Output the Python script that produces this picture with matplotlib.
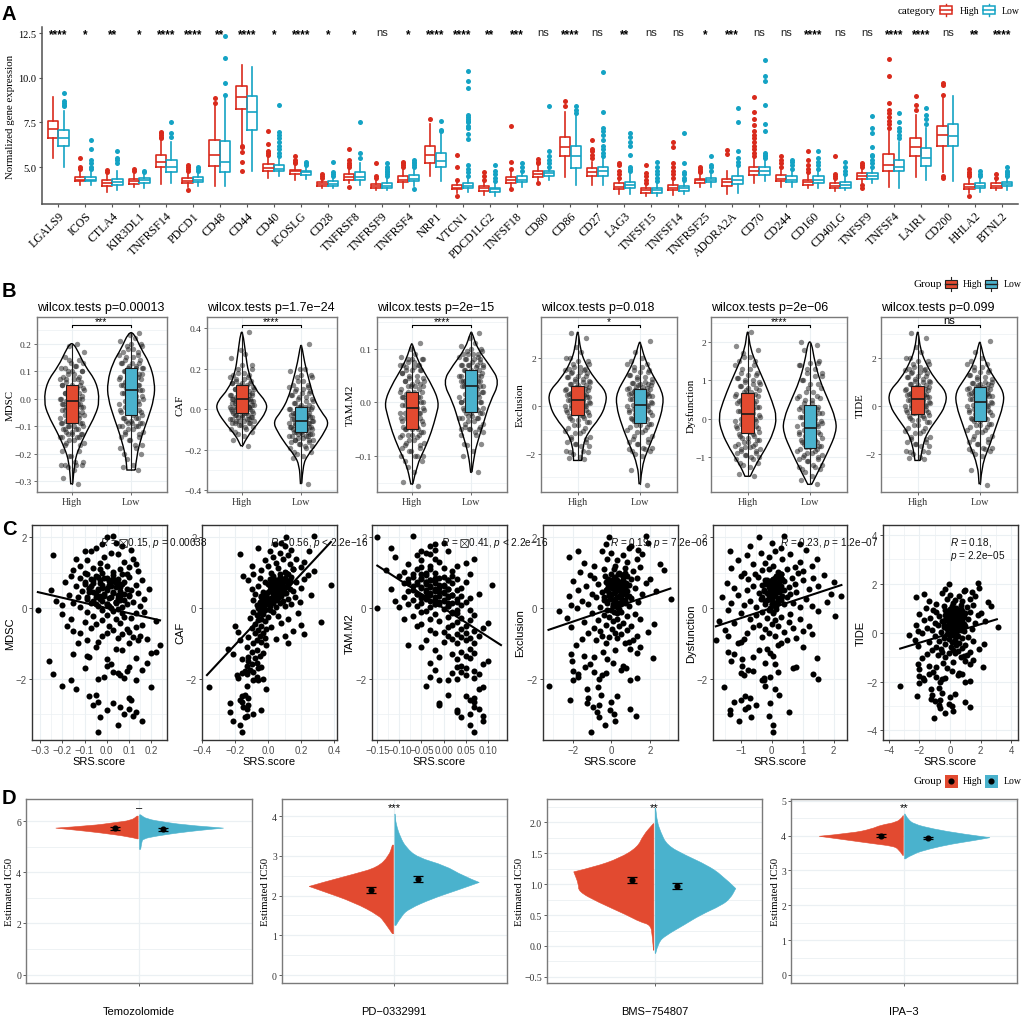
from matplotlib.patches import PathPatch, Rectangle
from matplotlib.path import Path
from matplotlib.ticker import AutoMinorLocator
import matplotlib
matplotlib.use("Agg")
import matplotlib.pyplot as plt
import matplotlib.transforms as mtrans
import numpy as np

W, H = 1024, 1020
SERIF = "Liberation Serif"
SANS = "Liberation Sans"
RED_LINE, TEAL_LINE = "#D92A1C", "#14A3C4"
RED, TEAL = "#E24A30", "#4AB2CD"
GRID = "#EBF0F3"

plt.rcParams.update(
    {
        "font.family": SERIF,
        "mathtext.fontset": "custom",
        "mathtext.rm": SANS,
        "mathtext.it": SANS + ":italic",
        "mathtext.fallback": "stixsans",
    }
)

# %% Panel A data
GENES = ["LGALS9", "ICOS", "CTLA4", "KIR3DL1", "TNFRSF14", "PDCD1", "CD48", "CD44", "CD40", "ICOSLG",
         "CD28", "TNFRSF8", "TNFRSF9", "TNFRSF4", "NRP1", "VTCN1", "PDCD1LG2", "TNFSF18", "CD80", "CD86",
         "CD27", "LAG3", "TNFSF15", "TNFSF14", "TNFRSF25", "ADORA2A", "CD70", "CD244", "CD160", "CD40LG",
         "TNFSF9", "TNFSF4", "LAIR1", "CD200", "HHLA2", "BTNL2"]
SIG_A = ["****", "*", "**", "*", "****", "****", "**", "****", "*", "****", "*", "*", "ns", "*", "****", "****",
         "**", "***", "ns", "****", "ns", "**", "ns", "ns", "*", "***", "ns", "ns", "****", "ns", "ns", "****",
         "****", "ns", "**", "****"]
HIGH_Q1 = [6.6, 4.2, 3.95, 4.05, 5.0, 4.1, 5.05, 8.25, 4.8, 4.6, 3.95, 4.3, 3.8, 4.15, 5.2, 3.75, 3.65, 4.1, 4.45, 5.6,
           4.5, 3.75, 3.55, 3.7, 4.1, 3.95, 4.55, 4.2, 4.0, 3.85, 4.35, 4.8, 5.6, 6.2, 3.75, 3.85]
HIGH_MED = [7.15, 4.3, 4.1, 4.2, 5.3, 4.2, 5.7, 8.9, 4.95, 4.75, 4.05, 4.45, 3.95, 4.3, 5.65, 3.85, 3.8, 4.3, 4.6, 6.1,
            4.7, 3.9, 3.7, 3.85, 4.25, 4.15, 4.8, 4.35, 4.15, 3.95, 4.5, 5.1, 6.1, 6.8, 3.9, 3.95]
HIGH_Q3 = [7.6, 4.45, 4.25, 4.35, 5.65, 4.4, 6.5, 9.55, 5.15, 4.85, 4.15, 4.6, 4.05, 4.5, 6.2, 4.0, 3.95, 4.45, 4.75, 6.7,
           4.95, 4.1, 3.8, 4.0, 4.35, 4.35, 5.0, 4.55, 4.3, 4.1, 4.65, 5.75, 6.65, 7.3, 4.05, 4.1]
HIGH_LO = [5.5, 4.0, 3.6, 3.9, 4.05, 3.9, 3.95, 6.3, 4.4, 4.3, 3.8, 4.1, 3.7, 3.85, 4.5, 3.55, 3.45, 3.8, 4.2, 4.45,
           4.0, 3.5, 3.4, 3.45, 3.9, 3.5, 4.1, 3.9, 3.8, 3.65, 4.1, 3.9, 4.45, 4.7, 3.55, 3.7]
HIGH_HI = [8.9, 4.8, 4.6, 4.6, 6.5, 4.7, 8.5, 10.7, 5.6, 5.1, 4.3, 4.9, 4.3, 4.9, 7.4, 4.2, 4.2, 4.8, 5.1, 8.1,
           5.3, 4.3, 4.0, 4.3, 4.6, 4.8, 5.5, 4.9, 4.6, 4.3, 4.9, 7.0, 7.9, 8.9, 4.4, 4.3]
HIGH_OUT = [[], [4.9, 5.0, 5.5], [4.7, 4.85], [4.75, 4.9], [6.6, 6.7, 6.8, 6.9, 6.95], [3.7, 4.8, 4.9, 5.0, 5.1],
            [8.6, 8.85], [6.2, 6.1, 5.85, 5.3, 4.75], [5.7, 5.8, 5.9, 6.3, 7.0], [5.2, 5.3, 5.4, 5.6], [4.4, 4.5, 4.6],
            [3.9, 5.0, 5.1, 5.2, 5.4, 6.0], [4.4, 4.5, 5.2], [5.0, 5.1, 5.2, 5.3], [7.7], [3.4, 4.3, 5.0, 5.7],
            [4.3, 4.5, 4.7], [3.75, 4.9, 5.3, 7.3], [4.1, 5.2, 5.3, 5.45], [8.4, 8.7], [5.5, 5.7, 5.9, 6.0, 6.5],
            [4.4, 4.6, 4.8, 5.1, 5.2], [4.1, 4.3, 4.5, 4.65, 5.1], [4.4, 4.6, 4.8, 5.0, 5.2, 6.1, 6.4], [4.7, 4.8, 4.9, 5.0],
            [5.75, 5.97], [5.6, 5.8, 6.0, 6.2, 6.4, 6.6, 6.8, 7.0, 7.33, 7.67, 8.1, 8.9], [5.0, 5.2, 5.4, 5.6],
            [4.7, 4.9, 5.1, 5.4, 5.9], [4.4, 4.5, 4.6, 5.6], [3.85, 4.0, 5.0, 5.1, 5.2],
            [7.2, 7.4, 7.6, 7.8, 8.0, 8.2, 8.6, 10.1, 11.05], [8.17, 8.5, 9.0], [4.5, 4.4, 9.05, 9.6, 9.7],
            [3.4, 4.5, 4.6, 4.7, 4.9], [4.4, 4.6]]
LOW_Q1 = [6.2, 4.2, 4.0, 4.1, 4.7, 4.15, 4.7, 7.1, 4.75, 4.55, 3.95, 4.3, 3.85, 4.2, 5.0, 3.8, 3.6, 4.15, 4.5, 4.95,
          4.5, 3.8, 3.55, 3.65, 4.15, 4.05, 4.55, 4.15, 4.1, 3.85, 4.35, 4.75, 5.05, 6.15, 3.85, 3.95]
LOW_MED = [6.6, 4.3, 4.15, 4.25, 5.0, 4.3, 5.3, 8.1, 4.9, 4.7, 4.05, 4.45, 3.95, 4.35, 5.35, 3.95, 3.75, 4.3, 4.65, 5.6,
           4.75, 4.0, 3.7, 3.8, 4.25, 4.3, 4.8, 4.3, 4.25, 4.0, 4.5, 5.0, 5.5, 6.75, 3.95, 4.05]
LOW_Q3 = [7.05, 4.45, 4.35, 4.4, 5.4, 4.45, 6.45, 8.95, 5.1, 4.8, 4.2, 4.7, 4.1, 4.55, 5.8, 4.1, 3.85, 4.5, 4.75, 6.15,
          5.0, 4.15, 3.85, 3.95, 4.4, 4.5, 5.0, 4.5, 4.5, 4.15, 4.65, 5.4, 6.05, 7.4, 4.1, 4.15]
LOW_LO = [5.0, 4.0, 3.7, 3.8, 4.1, 3.95, 3.95, 4.8, 4.5, 4.35, 3.8, 4.0, 3.7, 3.95, 4.2, 3.6, 3.4, 3.9, 4.3, 4.0,
          4.0, 3.5, 3.4, 3.5, 3.9, 3.55, 4.2, 3.9, 3.8, 3.7, 4.1, 3.8, 4.25, 4.2, 3.6, 3.7]
LOW_HI = [8.15, 4.7, 4.8, 4.6, 6.4, 4.7, 9.0, 10.6, 5.5, 5.0, 4.4, 5.2, 4.4, 4.9, 6.9, 4.4, 4.1, 4.7, 4.9, 7.9,
          5.5, 4.6, 4.1, 4.2, 4.7, 5.0, 5.4, 4.8, 4.8, 4.5, 4.9, 6.4, 7.2, 9.0, 4.4, 4.4]
LOW_OUT = [[8.4, 8.5, 8.6, 8.7, 9.15], [4.9, 5.0, 5.2, 5.4, 6.0, 6.5], [5.2, 5.4, 5.5, 5.9], [4.7, 4.8], [6.7, 6.9, 7.5],
           [4.8, 4.9, 5.0], [9.05, 9.7, 11.1, 12.35], [], [5.6, 5.8, 6.0, 6.2, 6.4, 6.6, 6.8, 6.95, 8.5], [5.1, 5.2, 5.3],
           [4.5, 4.6, 4.7, 5.3], [5.5, 5.8, 7.5], [4.5, 4.6, 4.7, 4.8, 4.9, 5.0, 5.2], [3.75, 5.0, 5.1, 5.2, 5.3, 5.4],
           [7.0, 7.1, 7.6], [4.5, 4.7, 4.9, 5.1, 6.55, 6.85, 7.2, 7.3, 7.5, 7.6, 7.7, 7.8, 7.9, 9.4, 9.8, 10.4],
           [4.2, 4.4, 4.6, 4.8, 5.1], [4.8, 5.0, 5.2], [5.0, 5.2, 5.4, 5.6, 5.9, 8.4], [8.0, 8.2, 8.4],
           [5.6, 5.8, 6.0, 6.2, 6.5, 6.8, 7.0, 7.2, 8.1, 10.3], [4.8, 4.9, 5.0, 5.7, 6.2, 6.4, 6.7, 6.9],
           [4.2, 4.4, 4.6, 4.8, 5.0, 5.3], [4.3, 4.4, 4.6, 4.7, 5.2, 6.9], [4.8, 5.0, 5.1, 5.6],
           [5.1, 5.3, 5.5, 5.9, 7.5, 8.3], [5.5, 5.6, 5.7, 5.8, 7.0, 7.4, 8.5, 9.8, 10.1, 11.0], [4.9, 5.1, 5.3, 5.4],
           [4.9, 5.1, 5.3, 5.5, 5.9], [4.6, 4.8, 5.0, 5.3], [5.0, 5.2, 5.4, 5.6, 5.7, 6.1, 6.9, 7.2, 7.85],
           [6.6, 6.8, 7.0, 7.2, 7.5, 8.0], [7.4, 7.7, 7.9, 8.3], [], [4.5, 4.6, 4.8], [4.5, 4.6, 4.7, 4.8, 5.0]]

# %% Panel B data
B_LABELS = ["MDSC", "CAF", "TAM.M2", "Exclusion", "Dysfunction", "TIDE"]
B_TITLES = ["wilcox.tests p=0.00013", "wilcox.tests p=1.7e\u221224", "wilcox.tests p=2e\u221215",
            "wilcox.tests p=0.018", "wilcox.tests p=2e\u221206", "wilcox.tests p=0.099"]
B_SIG = ["***", "****", "****", "*", "****", "ns"]
B_TICKS = [[-0.3, -0.2, -0.1, 0.0, 0.1, 0.2], [-0.4, -0.2, 0.0, 0.2, 0.4], [-0.1, 0.0, 0.1], [-2, 0, 2], [-1, 0, 1, 2], [-2, 0, 2]]
B_TICK_TEXT = [["\u22120.3", "\u22120.2", "\u22120.1", "0.0", "0.1", "0.2"], ["\u22120.4", "\u22120.2", "0.0", "0.2", "0.4"],
               ["\u22120.1", "0.0", "0.1"], ["\u22122", "0", "2"], ["\u22121", "0", "1", "2"], ["\u22122", "0", "2"]]
B_YLIM = [(-0.34, 0.297), (-0.408, 0.454), (-0.167, 0.159), (-3.61, 3.71), (-1.91, 2.65), (-3.61, 3.71)]
# outline of each violin: height, half width
V_Y_H = [[-0.31, -0.23, -0.18, -0.12, -0.06, -0.01, 0.06, 0.12, 0.17, 0.2],
         [-0.18, -0.13, -0.08, -0.01, 0.035, 0.10, 0.18, 0.27, 0.38],
         [-0.152, -0.117, -0.086, -0.055, -0.024, 0.0, 0.032, 0.063, 0.088, 0.109],
         [-2.29, -1.66, -1.1, -0.54, 0.0, 0.57, 1.13, 1.83, 2.38, 3.08],
         [-1.5, -1.22, -0.78, -0.35, 0.04, 0.43, 0.96, 1.39, 1.83, 2.26],
         [-2.29, -1.66, -1.1, -0.54, 0.0, 0.57, 1.13, 1.83, 2.38, 3.08]]
V_W_H = [[0.017, 0.045, 0.12, 0.25, 0.40, 0.47, 0.42, 0.22, 0.11, 0.03],
         [0.017, 0.10, 0.25, 0.42, 0.42, 0.22, 0.11, 0.067, 0.017],
         [0.017, 0.084, 0.22, 0.33, 0.41, 0.46, 0.34, 0.17, 0.067, 0.011],
         [0.065, 0.08, 0.17, 0.35, 0.45, 0.47, 0.27, 0.11, 0.043, 0.011],
         [0.043, 0.12, 0.29, 0.42, 0.47, 0.40, 0.27, 0.15, 0.043, 0.011],
         [0.043, 0.08, 0.16, 0.32, 0.45, 0.47, 0.27, 0.12, 0.043, 0.011]]
V_Y_L = [[-0.26, -0.21, -0.135, -0.075, 0.0, 0.06, 0.13, 0.18, 0.24],
         [-0.366, -0.276, -0.227, -0.177, -0.11, -0.062, -0.013, 0.05, 0.135, 0.233, 0.315],
         [-0.13, -0.099, -0.068, -0.037, 0.0, 0.038, 0.069, 0.10, 0.131],
         [-3.26, -2.5, -1.66, -0.82, 0.0, 0.57, 1.27, 1.96, 2.66],
         [-1.71, -1.3, -0.87, -0.35, 0.0, 0.52, 0.96, 1.48, 2.0],
         [-3.26, -2.5, -1.66, -0.82, 0.0, 0.57, 1.13, 1.83, 2.66]]
V_W_L = [[0.07, 0.09, 0.18, 0.28, 0.39, 0.40, 0.31, 0.17, 0.045],
         [0.011, 0.03, 0.11, 0.25, 0.40, 0.47, 0.34, 0.22, 0.14, 0.056, 0.011],
         [0.011, 0.045, 0.12, 0.21, 0.31, 0.48, 0.31, 0.10, 0.011],
         [0.011, 0.032, 0.16, 0.29, 0.38, 0.37, 0.21, 0.08, 0.011],
         [0.032, 0.16, 0.29, 0.43, 0.42, 0.29, 0.17, 0.08, 0.027],
         [0.011, 0.032, 0.16, 0.27, 0.38, 0.39, 0.24, 0.08, 0.011]]
BOX_H = [(-0.09, -0.01, 0.05), (-0.02, 0.05, 0.12), (-0.05, -0.01, 0.02), (-0.4, 0.25, 0.82), (-0.37, 0.11, 0.68), (-0.35, 0.28, 0.82)]
BOX_L = [(-0.06, 0.03, 0.11), (-0.11, -0.06, 0.01), (-0.018, 0.03, 0.06), (-0.72, 0.01, 0.71), (-0.77, -0.23, 0.36), (-0.63, 0.14, 0.79)]

MDSC_H = [-.31, -.29, -.26, -.25, -.24, -.24, -.23, -.21, -.19, -.17, -.16, -.15, -.14, -.14, -.13, -.13, -.12, -.11, -.11, -.1, -.1, -.09, -.09, -.08, -.08, -.07, -.06, -.06, -.05, -.05, -.04, -.04, -.03, -.03, -.02, -.02, -.01, -.01, 0, 0, .01, .01, .02, .02, .03, .04, .04, .05, .05, .06, .07, .07, .08, .09, .1, .1, .11, .12, .13, .14, .15, .17, .19, .2]
MDSC_L = [-.26, -.25, -.24, -.22, -.2, -.18, -.17, -.15, -.14, -.13, -.12, -.11, -.1, -.1, -.09, -.09, -.08, -.07, -.07, -.06, -.05, -.05, -.04, -.03, -.03, -.02, -.01, 0, .01, .01, .02, .03, .03, .04, .05, .05, .06, .07, .07, .08, .08, .09, .09, .1, .11, .11, .12, .13, .13, .14, .15, .16, .17, .18, .19, .2, .21, .22, .23, .24]
CAF_H = [-.18, -.15, -.13, -.12, -.11, -.1, -.09, -.08, -.07, -.07, -.06, -.06, -.05, -.05, -.04, -.04, -.03, -.03, -.02, -.02, -.01, -.01, 0, 0, 0, .01, .01, .02, .02, .02, .03, .03, .04, .04, .05, .05, .06, .06, .07, .07, .08, .08, .09, .1, .1, .11, .12, .13, .13, .14, .15, .16, .17, .18, .2, .22, .25, .27, .29, .38]
CAF_L = [-.37, -.24, -.23, -.22, -.21, -.19, -.18, -.17, -.16, -.15, -.15, -.14, -.13, -.13, -.12, -.12, -.11, -.11, -.1, -.1, -.1, -.09, -.09, -.08, -.08, -.07, -.07, -.06, -.06, -.05, -.05, -.04, -.04, -.03, -.03, -.02, -.02, -.01, 0, 0, .01, .01, .02, .03, .04, .05, .06, .07, .08, .09, .1, .11, .12, .14, .16, .17, .19, .2, .2, .32]
TAM_H = [-.155, -.148, -.13, -.12, -.11, -.1, -.1, -.09, -.085, -.08, -.075, -.07, -.065, -.06, -.06, -.055, -.05, -.05, -.045, -.04, -.04, -.035, -.03, -.03, -.025, -.02, -.02, -.015, -.01, -.01, -.005, 0, 0, .005, .01, .01, .015, .02, .02, .025, .03, .03, .035, .04, .04, .045, .05, .055, .06, .06, .065, .07, .07, .075, .08, .08, .085, .09, .1, .11]
TAM_L = [-.13, -.1, -.09, -.08, -.078, -.06, -.055, -.05, -.05, -.045, -.04, -.035, -.03, -.03, -.025, -.02, -.02, -.015, -.01, -.01, -.005, 0, 0, .005, .01, .01, .015, .02, .02, .025, .03, .03, .03, .035, .04, .04, .04, .045, .05, .05, .05, .055, .06, .06, .065, .07, .07, .07, .075, .08, .08, .085, .09, .09, .095, .1, .105, .11, .12, .13]
EXCL_H = [-2.25, -2.2, -2.15, -2.0, -1.95, -1.9, -1.7, -1.6, -1.5, -1.4, -1.3, -1.15, -1.05, -.95, -.8, -.7, -.6, -.5, -.45, -.4, -.3, -.25, -.2, -.1, -.05, 0, .05, .1, .15, .2, .25, .3, .35, .4, .45, .5, .55, .6, .65, .7, .75, .8, .85, .9, 1.0, 1.05, 1.1, 1.2, 1.25, 1.35, 1.4, 1.5, 1.55, 1.6, 1.75, 1.85, 2.0, 2.25, 2.45, 2.85, 3.05]
EXCL_L = [-3.3, -2.7, -2.1, -2.0, -1.9, -1.8, -1.75, -1.6, -1.5, -1.4, -1.25, -1.1, -1.0, -.9, -.8, -.75, -.65, -.55, -.5, -.4, -.35, -.25, -.2, -.15, -.05, 0, .05, .1, .15, .2, .3, .35, .4, .45, .5, .55, .6, .65, .7, .75, .8, .85, .9, .95, 1.0, 1.1, 1.2, 1.3, 1.4, 1.5, 1.6, 1.75, 1.85, 2.0, 2.25, 2.7]
DYS_H = [-1.5, -1.45, -1.25, -1.2, -1.15, -1.05, -1.0, -.95, -.9, -.85, -.8, -.75, -.7, -.65, -.6, -.55, -.5, -.45, -.4, -.35, -.3, -.25, -.2, -.15, -.1, -.05, 0, .05, .1, .15, .2, .25, .3, .35, .4, .45, .5, .55, .6, .65, .7, .75, .8, .85, .9, .95, 1.0, 1.05, 1.15, 1.2, 1.3, 1.4, 1.5, 1.6, 1.7, 1.8, 1.9, 2.25]
DYS_L = [-1.7, -1.6, -1.5, -1.4, -1.3, -1.25, -1.2, -1.1, -1.05, -1.0, -.95, -.9, -.85, -.8, -.75, -.7, -.65, -.6, -.55, -.5, -.45, -.4, -.35, -.3, -.25, -.2, -.15, -.1, -.05, 0, .05, .1, .15, .2, .25, .3, .4, .5, .55, .6, .7, .8, .9, 1.0, 1.1, 1.2, 1.3, 1.4, 1.45, 1.5, 1.8, 1.93, 2.0]
B_POINTS_H = [MDSC_H, CAF_H, TAM_H, EXCL_H, DYS_H, EXCL_H]
B_POINTS_L = [MDSC_L, CAF_L, TAM_L, EXCL_L, DYS_L, EXCL_L]
JITTER = [.11, -.14, .03, -.07, .17, -.18, .06, -.02, .13, -.11, .2, -.05, .09, -.16, .01, .15, -.09]
JITTER2 = [-.12, .08, .19, -.04, -.17, .14, -.1, .04, -.2, .12, -.06, .18, 0]

# %% Panel C data
C_LABELS = ["MDSC", "CAF", "TAM.M2", "Exclusion", "Dysfunction", "TIDE"]
C_Y = [-3.5, -3.3, -3.2, -3.1, -3.05, -3.0, -2.95, -2.9, -2.85, -2.8, -2.75, -2.7, -2.65, -2.6, -2.55, -2.5, -2.45, -2.3, -2.25, -2.2,
       -2.05, -2.03, -2.0, -1.98, -1.95, -1.9, -1.87, -1.85, -1.8, -1.78, -1.75, -1.7, -1.68, -1.65, -1.6, -1.55, -1.5, -1.45, -1.42, -1.4, -1.35, -1.3, -1.27, -1.25, -1.2, -1.15, -1.1, -1.05,
       -1.0, -.98, -.95, -.92, -.9, -.88, -.85, -.82, -.8, -.78, -.75, -.72, -.7, -.68, -.65, -.62, -.6, -.58, -.55, -.52, -.5, -.48, -.45, -.42, -.4, -.38, -.35, -.32, -.3, -.28, -.25, -.22, -.2, -.18, -.15, -.12, -.1, -.08, -.05, -.02,
       0.0, .02, .03, .05, .06, .08, .1, .11, .13, .14, .16, .18, .2, .21, .23, .25, .26, .28, .3, .31, .33, .35, .36, .38, .4, .41, .43, .45, .46, .48, .5, .51, .53, .55, .56, .58, .6, .61, .63, .65, .66, .68, .7, .71, .73, .75, .76, .78, .8, .81, .83, .85, .86, .88, .9, .91, .93, .95, .96, .98,
       1.0, 1.02, 1.05, 1.08, 1.1, 1.12, 1.15, 1.18, 1.2, 1.25, 1.28, 1.3, 1.35, 1.38, 1.4, 1.45, 1.5, 1.52, 1.55, 1.6, 1.62, 1.65, 1.7, 1.75, 1.8, 1.85, 2.0, 2.05,
       .1, .15, .2, .22, .25, .28, .3, .32, .35, .38, .4, .42, .45, .48, .5, .52, .55, .58, .6, .62, .65, .68, .7, .72, .75, .78, .8, .82, .85, .88, -.15, -.05, .05, .12, .18, .35, .55, .75, .95, 1.1]
C_X_MDSC = [-.04, .05, .16, -.03, .12, .08, .13, 0, .1, .06, -.06, .03, -.04, .11, .1, -.08, -.05, -.14, .2, -.2,
            -.16, .13, -.04, .08, -.01, .06, -.24, .05, .03, .09, .16, -.1, .1, 0, .02, .18, -.26, 0, .13, -.08, -.09, -.15, .2, .22, .07, .04, -.05, .24,
            -.13, .1, -.04, .14, -.09, .18, .05, .12, -.02, .15, .07, -.12, 0, .1, -.15, .03, .09, -.07, .13, -.18, .01, .16, -.05, .06, -.1, .22, -.02, .04, -.16, .11, .08, -.06, 0, -.2, .13, -.09, .17, .03, -.31, .05,
            .02, -.12, .07, -.04, .15, -.2, 0, .09, -.07, -.15, .04, .12, -.02, -.23, .06, -.09, .17, .01, -.05, -.13, .1, -.03, .05, -.17, .08, -.01, .14, -.06, .03, -.11, .11, -.25, -.04, .19, 0, -.08, .06, -.14, .02, -.02, .13, -.1, .04, -.06, .08, -.19, .01, -.03, .16, -.07, .05, -.12, -.01, .1, -.05, -.16, .03, .07, -.09, -.02,
            -.1, .03, .14, -.15, .06, -.06, .1, 0, -.12, .13, -.03, .08, -.09, .12, -.14, -.01, -.24, .05, .02, -.1, -.07, .11, -.05, .07, -.02, .04, 0, .03,
            0, .04, -.06, .08, -.03, .05, -.09, .02, -.01, .1, -.05, .03, -.08, .06, 0, -.04, .09, -.02, .04, -.07, .01, .07, -.03, .05, -.1, .02, -.06, .03, 0, -.04, .07, -.02, .01, -.05, .04, .06, -.08, .02, .09, -.03]
C_X_CAF = [-.16, -.17, -.21, -.14, -.13, -.09, -.23, -.04, -.13, -.15, -.12, -.23, -.16, -.17, -.12, -.16, -.14, -.01, -.36, -.13,
           -.09, -.06, -.03, -.18, -.07, -.19, -.13, -.16, -.09, -.14, -.11, -.06, -.04, -.13, -.1, -.07, -.12, -.16, -.08, -.12, -.05, -.21, -.03, -.1, -.07, -.24, -.13, -.01,
           -.09, .12, -.04, -.17, -.07, .05, -.02, -.12, .1, -.05, .22, -.08, -.03, -.18, .15, -.06, -.01, -.1, .02, -.2, -.04, .2, -.08, .08, .32, -.02, -.06, .12, -.04, -.11, 0, .06, -.07, -.03, .18, -.09, .03, -.05, .01, -.02,
           -.06, .05, -.03, .1, .01, -.07, .14, -.02, .07, .03, -.05, .19, 0, .09, -.09, .04, .12, .02, -.04, .16, .06, -.01, .08, .26, -.08, .03, .11, .05, -.03, .15, .01, .07, -.1, .13, .04, .2, .02, .09, -.06, .06, .38, 0, .12, .03, .17, -.02, .08, -.12, .05, .22, .01, .1, -.05, .14, -.15, .03, .24, .07, -.09, .11,
           .02, .1, .28, -.04, .15, .06, .2, 0, -.1, .13, .05, .22, -.02, .09, .17, .03, .12, -.17, .07, .25, .01, .14, -.06, .1, .04, .08, .11, .28,
           -.05, .02, -.03, .05, 0, .06, -.02, .03, .08, -.01, .04, .1, 0, .06, .02, .09, .03, .07, .11, .01, .05, .12, .04, .08, .02, .13, .06, .1, .03, .07, -.05, -.02, -.03, 0, .01, -.04, .05, .09, .12, .15]
C_X_TAM = [.07, .06, .09, .04, .09, .06, .03, .03, .08, .07, -.01, -.01, .07, .06, .07, .05, .01, .08, .09, -.04,
           -.01, .01, .03, .07, -.03, .05, .08, .02, .04, .07, -.02, .05, .03, .04, .09, -.03, .1, .03, .06, -.01, .05, .02, .07, .04, -.02, .06, -.05, -.08,
           .03, .07, 0, .05, -.04, .02, .06, .04, .01, .08, .03, -.02, .05, 0, .07, -.03, .04, .09, .01, -.06, .05, .02, -.05, .1, .03, -.01, .06, -.09, -.03, .04, .01, -.07, .07, -.02, .03, -.05, .02, -.04, .06, 0,
           -.15, -.1, -.03, .01, -.06, .04, -.08, -.02, .02, -.05, .05, -.01, -.11, 0, -.07, .03, -.04, .06, -.02, -.09, .01, -.05, .02, -.03, .08, -.06, 0, -.04, -.01, -.08, .03, -.02, -.12, .01, -.05, .04, -.03, -.07, 0, .11, -.01, -.04, .02, -.09, .05, -.06, -.02, .01, -.03, -.08, .03, -.05, -.01, 0, -.1, .02, -.04, .06, -.07, -.02,
           -.04, -.09, .02, -.13, -.06, 0, -.05, .03, -.03, -.08, .05, -.01, -.05, .07, -.02, -.11, -.06, -.03, -.04, .01, -.05, -.02, -.12, -.03, -.02, 0, -.15, -.07,
           -.01, .01, -.03, 0, -.02, -.05, .01, -.04, -.01, .02, -.06, -.03, 0, -.02, -.07, -.04, .01, -.01, -.05, -.03, 0, -.06, -.02, -.08, -.04, .01, -.03, -.05, -.02, -.07, .02, .03, .01, -.02, .03, .04, -.02, -.04, -.05, -.03]
C_X_EXCL = [-1.05, -.35, .17, -.65, 1.27, .15, -.75, -.05, .95, -.95, -.65, -1.25, 0, -2.15, -1.2, .3, -.55, -1.25, -.7, -3.25,
            -2.0, .95, -.65, 1.3, -1.7, -.5, -1.75, -.3, -.9, -2.0, .5, .75, -1.35, .6, -1.1, .1, -2.05, -.2, 2.15, -.9, -1.4, -2.1, 1.3, -.45, .2, .95, 1.5, -1.85,
            -.3, .7, .9, -.8, 1.1, -1.5, .3, -.1, -.5, 1.3, .5, -1.2, .2, 1.9, -.6, .8, .05, -.9, -2.1, .4, 1.0, -.3, 2.2, .6, -1.4, .1, -.7, 1.5, .3, -2.3, -.1, .8, -.4, 1.2, -1.0, .5, .15, -2.7, 0, .4,
            -1.8, .3, -.6, .9, .1, -2.1, .5, -1.2, .7, -.2, 1.4, .2, -1.5, .6, -.4, 3.1, 0, 1.0, -.8, .35, -2.2, .8, -.1, .45, -1.0, 1.6, .15, .55, -.5, 2.3, .25, -1.7, .65, -.25, 1.2, .05, .4, -1.3, .75, -.05, .9, -.7, .3, 1.8, -.3, .5, -2.0, .1, .6, 2.0, -.15, 1.3, -.9, .2, .8, -.35, -1.1, .45, 0, .7,
            .4, -1.6, 1.1, 2.7, -.4, .7, 1.5, -.9, .2, 2.5, -1.4, .8, .3, 1.3, -.2, -2.2, .6, 1.6, 0, -1.7, -.5, 1.4, .9, 1.0, -.3, 1.9, -.1, 1.8,
            .1, .4, -.2, .7, .2, .5, -.4, .3, .9, 0, .6, -.1, .2, .8, .35, -.3, .5, .05, .65, .25, -.15, .45, .75, .1, .55, -.05, .3, 1.0, .15, .6, .3, -.2, .1, .4, .7, -.1, .25, .5, .35, .15]
C_X_DYS = [.03, .05, -1.05, -.65, -.1, -1.35, .55, -1.35, -.85, -.75, -.5, -.05, -1.2, -1.0, -.7, -.85, .25, .1, -1.55, -.2,
           -.3, -.25, 1.5, -.25, -.05, -.9, 1.35, -1.0, .2, -.6, -.75, .7, .8, -.95, .1, -.2, -1.3, -.95, 1.45, -.6, .05, -1.2, -.05, -1.4, -.4, -.15, 1.0, .2,
           -1.1, .3, -1.0, -1.8, .5, -.9, .8, -.3, -1.4, .1, 1.3, -.8, -.1, .4, 1.0, -1.5, -.2, .7, -.6, .2, 1.2, -.4, 0, -1.2, .55, -1.7, .1, .9, -.7, -.15, .3, 2.05, -.5, .6, -1.0, .05, -.3, 1.5, -1.4, .15,
           -.05, .9, -.5, .1, 1.3, -.9, -.2, .4, -1.3, .7, .05, 1.8, -.7, .2, -.15, 1.1, -.35, .3, -1.6, .5, -.1, 2.25, 0, -1.1, .6, 1.9, -.4, .15, .8, -.25, -.8, .35, 1.2, -.05, -1.2, .25, .55, -.6, 1.5, .1, -.3, .75, -1.45, .2, 2.0, -.1, .4, 1.0, -.2, -.75, .05, .65, 1.35, -.45, -1.0, .15, 1.7, .3, -.55, .85,
           -.9, .2, 1.0, -.3, .5, -1.3, .75, .05, 1.3, -.6, -.2, .9, -1.1, .35, 1.45, -.1, -.8, .6, -.35, -1.35, .1, 1.1, .3, -.7, .9, 0, -.4, .4,
           0, .15, -.2, .3, -.1, .2, -.3, .05, .35, -.05, .1, -.15, .25, 0, .4, -.25, .1, .2, -.1, .3, .05, -.2, .15, -.05, .25, 0, -.15, .35, .1, .2, .05, -.1, .15, 0, .2, -.05, .25, .1, .3, -.1]
C_XS = [C_X_MDSC, C_X_CAF, C_X_TAM, C_X_EXCL, C_X_DYS, C_X_EXCL]
TREND_X = [(-0.31, 0.24), (-0.37, 0.38), (-0.15, 0.13), (-3.25, 3.05), (-1.8, 2.25), (-3.25, 3.05)]
TREND_Y = [(0.45, -0.35), (-1.9, 1.87), (1.2, -1.05), (-0.62, 0.55), (-0.52, 0.65), (-0.65, 0.55)]
C_XLIM = [(-0.335, 0.27), (-0.40, 0.415), (-0.162, 0.143), (-3.55, 3.43), (-1.90, 2.44), (-4.39, 4.41)]
C_YLIM = [(-3.73, 2.35)] * 5 + [(-4.38, 4.41)]
C_XTICKS = [[-0.3, -0.2, -0.1, 0.0, 0.1, 0.2], [-0.4, -0.2, 0.0, 0.2, 0.4], [-0.15, -0.10, -0.05, 0.0, 0.05, 0.10],
            [-2, 0, 2], [-1, 0, 1, 2], [-4, -2, 0, 2, 4]]
C_XTEXT = [["\u22120.3", "\u22120.2", "\u22120.1", "0.0", "0.1", "0.2"], ["\u22120.4", "\u22120.2", "0.0", "0.2", "0.4"],
           ["\u22120.15", "\u22120.10", "\u22120.05", "0.00", "0.05", "0.10"], ["\u22122", "0", "2"], ["\u22121", "0", "1", "2"],
           ["\u22124", "\u22122", "0", "2", "4"]]
C_YTICKS = [[-2, 0, 2]] * 5 + [[-4, -2, 0, 2, 4]]
C_STATS = [r"$\it{R}$ = $\boxtimes$0.15, $\it{p}$ = 0.00038", r"$\it{R}$ = 0.56, $\it{p}$ < 2.2e$-$16",
           r"$\it{R}$ = $\boxtimes$0.41, $\it{p}$ < 2.2e$-$16", r"$\it{R}$ = 0.19, $\it{p}$ = 7.2e$-$06",
           r"$\it{R}$ = 0.23, $\it{p}$ = 1.2e$-$07", r"$\it{R}$ = 0.18,", r"$\it{p}$ = 2.2e$-$05"]

# %% Panel D data
DRUGS = ["Temozolomide", "PD\u22120332991", "BMS\u2212754807", "IPA\u22123"]
D_SIG = ["\u2013", "***", "**", "**"]
D_YLIM = [(-0.33, 6.87), (-0.2, 4.43), (-0.6, 2.38), (-0.23, 5.05)]
D_TICKS = [[0, 2, 4, 6], [0, 1, 2, 3, 4], [-0.5, 0.0, 0.5, 1.0, 1.5, 2.0], [0, 1, 2, 3, 4, 5]]
D_TEXT = [["0", "2", "4", "6"], ["0", "1", "2", "3", "4"], ["\u22120.5", "0.0", "0.5", "1.0", "1.5", "2.0"], ["0", "1", "2", "3", "4", "5"]]
D_Y_H = [[5.31, 5.38, 5.55, 5.65, 5.73, 5.83, 5.94, 6.03, 6.2],
         [1.04, 1.33, 1.5, 1.83, 2.13, 2.23, 2.33, 2.54, 2.71, 3.0, 3.27],
         [-0.07, 0.17, 0.34, 0.39, 0.5, 0.71, 0.88, 1.0, 1.2, 1.28, 1.42, 1.6, 1.79, 1.98],
         [3.43, 3.62, 3.7, 3.76, 3.85, 3.98, 4.07, 4.19, 4.3, 4.38, 4.52, 4.57]]
D_W_H = [[0.01, 0.06, 0.34, 0.55, 0.73, 0.40, 0.22, 0.06, 0.01],
         [0.01, 0.08, 0.13, 0.35, 0.65, 0.75, 0.63, 0.35, 0.14, 0.04, 0.01],
         [0.003, 0.015, 0.03, 0.13, 0.25, 0.52, 0.70, 0.70, 0.745, 0.55, 0.32, 0.15, 0.1, 0.005],
         [0.005, 0.04, 0.1, 0.25, 0.45, 0.745, 0.45, 0.28, 0.2, 0.06, 0.01, 0.003]]
D_Y_L = [[4.9, 5.18, 5.31, 5.42, 5.55, 5.65, 5.73, 5.83, 5.96, 6.09, 6.25],
         [1.25, 1.5, 1.67, 1.92, 2.13, 2.33, 2.5, 2.75, 2.96, 3.21, 3.46, 3.8, 4.05],
         [-0.12, 0.06, 0.17, 0.34, 0.5, 0.66, 0.77, 0.93, 1.15, 1.31, 1.47, 1.63, 1.85, 2.01, 2.23],
         [3.33, 3.47, 3.62, 3.76, 3.85, 3.94, 4.05, 4.19, 4.33, 4.47, 4.62]]
D_W_L = [[0.01, 0.02, 0.03, 0.15, 0.35, 0.55, 0.745, 0.45, 0.22, 0.06, 0.01],
         [0.01, 0.06, 0.13, 0.33, 0.55, 0.75, 0.6, 0.45, 0.2, 0.1, 0.05, 0.01, 0.002],
         [0.005, 0.03, 0.1, 0.27, 0.42, 0.62, 0.7, 0.75, 0.62, 0.48, 0.28, 0.11, 0.05, 0.02, 0.005],
         [0.005, 0.07, 0.22, 0.42, 0.6, 0.755, 0.5, 0.25, 0.08, 0.03, 0.003]]
D_MEAN_H = [5.73, 2.14, 1.065, 4.0]
D_MEAN_L = [5.69, 2.41, 0.97, 3.93]
D_ERR = [0.06, 0.07, 0.05, 0.04]


# %% Helpers
def px_axes(fig, left, top, right, bottom):
    return fig.add_axes([left / W, 1 - bottom / H, (right - left) / W, (bottom - top) / H])


def set_ylabel_px(ax, box, text, px, **kw):
    ax.set_ylabel(text, va="center", **kw)
    ax.yaxis.set_label_coords((px - box[0]) / (box[2] - box[0]), 0.5)


def curve_codes(pts):
    """Quadratic segments through the midpoints of the control points."""
    verts, codes = [], []
    for a, b in zip(pts[1:-1], pts[2:]):
        verts += [a, ((a[0] + b[0]) / 2, (a[1] + b[1]) / 2)]
        codes += [Path.CURVE3, Path.CURVE3]
    verts.append(pts[-1])
    codes.append(Path.LINETO)
    return verts, codes


def smooth_violin(ax, center, ys, ws):
    pts = [(center + w, y) for y, w in zip(ys, ws)] + [(center - w, y) for y, w in zip(ys[::-1], ws[::-1])]
    verts, codes = curve_codes(pts)
    verts = [pts[0]] + verts + [pts[0]]
    codes = [Path.MOVETO] + codes + [Path.LINETO]
    ax.add_patch(PathPatch(Path(verts, codes), fc="none", ec="black", lw=1.0, zorder=3))


def half_violin(ax, ys, ws, sign, color):
    """Filled half violin, rounded on both flanks and sharp at its widest point."""
    edge = sign * 0.006
    tip = int(np.argmax(ws))
    pts = [(edge + sign * w, y) for y, w in zip(ys, ws)]
    v1, c1 = curve_codes(pts[: tip + 1])
    v2, c2 = curve_codes(pts[tip:])
    verts = [(edge, ys[0]), pts[0]] + v1 + v2 + [(edge, ys[-1]), (edge, ys[0])]
    codes = [Path.MOVETO, Path.LINETO] + c1 + c2 + [Path.LINETO, Path.LINETO]
    ax.add_patch(PathPatch(Path(verts, codes), fc=color, ec=color, lw=0.4, zorder=2))


def style_box(ax, color, width=1.0):
    for s in ax.spines.values():
        s.set_color(color)
        s.set_linewidth(width)


fig = plt.figure(figsize=(W / 100, H / 100), dpi=100)

# %% Panel A
ax = px_axes(fig, 42, 28, 1018, 205)
xs = np.arange(len(GENES))
for offset, color, q1, med, q3, lo, hi, out in [
    (-0.2, RED_LINE, HIGH_Q1, HIGH_MED, HIGH_Q3, HIGH_LO, HIGH_HI, HIGH_OUT),
    (0.2, TEAL_LINE, LOW_Q1, LOW_MED, LOW_Q3, LOW_LO, LOW_HI, LOW_OUT),
]:
    stats = [dict(q1=a, med=b, q3=c, whislo=d, whishi=e, fliers=f) for a, b, c, d, e, f in zip(q1, med, q3, lo, hi, out)]
    line = dict(color=color, lw=1.2)
    ax.bxp(stats, positions=xs + offset, widths=0.38, manage_ticks=False, showcaps=False,
           boxprops=line, whiskerprops=line, medianprops=line,
           flierprops=dict(marker="o", mfc=color, mec=color, ms=3.6, mew=0))
for i, sig in enumerate(SIG_A):
    if sig == "ns":
        ax.text(i, 12.55, sig, family=SANS, fontsize=8, ha="center", va="center", color="#222222", clip_on=False)
    else:
        ax.text(i, 12.45, sig, family=SANS, fontsize=8.5, fontweight="bold", ha="center", va="center", clip_on=False)
ax.set_xlim(-0.6, 35.6)
ax.set_ylim(2.93, 12.84)
ax.set_yticks([5.0, 7.5, 10.0, 12.5], ["5.0", "7.5", "10.0", "12.5"], fontsize=7.5)
ax.set_xticks(xs)
ax.set_xticklabels(GENES, rotation=45, ha="right", rotation_mode="anchor", fontsize=8.6)
ax.tick_params(length=2, width=0.8, color="#555555", pad=2)
for s in ["top", "right"]:
    ax.spines[s].set_visible(False)
for s in ["left", "bottom"]:
    ax.spines[s].set_color("#505050")
    ax.spines[s].set_linewidth(1.1)
set_ylabel_px(ax, (42, 28, 1018, 205), "Normalized gene expression", 11, fontsize=7.8)

# %% Panel B
B_BOXES = [(36.7, 318, 166.7, 493), (206.7, 318, 336.7, 493), (376.7, 318, 507, 493),
           (541, 318, 677, 493), (711, 318, 847, 493), (881, 318, 1017, 493)]
B_LABEL_PX = [10, 180, 350, 520, 691, 860]
for i, box in enumerate(B_BOXES):
    ax = px_axes(fig, *box)
    ax.set_xlim(0.41, 2.6)
    ax.set_ylim(*B_YLIM[i])
    ax.set_axisbelow(True)
    for pos, pts, vy, vw, bx, color in [
        (1, B_POINTS_H[i], V_Y_H[i], V_W_H[i], BOX_H[i], RED),
        (2, B_POINTS_L[i], V_Y_L[i], V_W_L[i], BOX_L[i], TEAL),
    ]:
        jit = [pos + JITTER[k % len(JITTER)] for k in range(len(pts))]
        ax.scatter(jit, pts, s=15, color="#1A1A1A", alpha=0.5, linewidths=0, zorder=2)
        # the middle of the cloud is about twice as dense as its ends
        mid = pts[4:-4]
        jit2 = [pos + JITTER2[k % len(JITTER2)] for k in range(len(mid))]
        ax.scatter(jit2, mid, s=15, color="#1A1A1A", alpha=0.5, linewidths=0, zorder=2)
        smooth_violin(ax, pos, vy, vw)
        stat = [dict(q1=bx[0], med=bx[1], q3=bx[2], whislo=vy[0], whishi=vy[-1], fliers=[])]
        ax.bxp(stat, positions=[pos], widths=0.2, manage_ticks=False, showcaps=False, showfliers=False, patch_artist=True,
               boxprops=dict(facecolor=color, edgecolor="#1A1A1A", lw=0.8),
               medianprops=dict(color="#1A1A1A", lw=1.2), whiskerprops=dict(color="#1A1A1A", lw=0.8), zorder=4)
    trans = mtrans.blended_transform_factory(ax.transData, ax.transAxes)
    ax.plot([1, 1, 2, 2], [0.942, 0.956, 0.956, 0.942], color="black", lw=0.8, transform=trans, zorder=5)
    if B_SIG[i] == "ns":
        ax.text(1.5, 0.985, "ns", family=SANS, fontsize=8, ha="center", va="center", transform=trans)
    else:
        ax.text(1.5, 0.975, B_SIG[i], family=SANS, fontsize=7.5, ha="center", va="center", transform=trans)
    ax.set_xticks([1, 2], ["High", "Low"], fontsize=7.3)
    ax.set_yticks(B_TICKS[i], B_TICK_TEXT[i], fontsize=6.8)
    ax.yaxis.set_minor_locator(AutoMinorLocator(2))
    ax.grid(True, which="major", color=GRID, lw=0.8)
    ax.grid(True, which="minor", axis="y", color=GRID, lw=0.5)
    ax.tick_params(which="major", length=2, width=0.6, color="#555555", labelcolor="#333333", pad=1.5)
    ax.tick_params(which="minor", length=0)
    style_box(ax, "#7A7A7A", 1.0)
    set_ylabel_px(ax, box, B_LABELS[i], B_LABEL_PX[i], fontsize=7.8)
    ax.set_title(B_TITLES[i], family=SANS, fontsize=9, loc="left", pad=5)

# %% Panel C
C_BOXES = [(32.3, 526, 166.7, 740.7), (202, 526, 336.7, 740.7), (372, 526, 506.7, 740.7),
           (542.7, 526, 677.7, 740.7), (712.7, 526, 847.3, 740.7), (882.7, 526, 1017.7, 740.7)]
C_LABEL_PX = [10, 180, 350, 520, 691, 861]
for i, box in enumerate(C_BOXES):
    ax = px_axes(fig, *box)
    n = min(len(C_XS[i]), len(C_Y))
    ax.scatter(C_XS[i][:n], C_Y[:n], s=19, color="black", linewidths=0, zorder=3)
    ax.plot(TREND_X[i], TREND_Y[i], color="black", lw=1.5, zorder=4)
    ax.set_xlim(*C_XLIM[i])
    ax.set_ylim(*C_YLIM[i])
    ax.set_xticks(C_XTICKS[i], C_XTEXT[i], family=SANS, fontsize=7)
    ax.set_yticks(C_YTICKS[i], [str(v).replace("-", "\u2212") for v in C_YTICKS[i]], family=SANS, fontsize=7)
    ax.xaxis.set_minor_locator(AutoMinorLocator(2))
    ax.yaxis.set_minor_locator(AutoMinorLocator(2))
    ax.set_axisbelow(True)
    ax.grid(True, which="major", color=GRID, lw=0.8)
    ax.grid(True, which="minor", color=GRID, lw=0.5)
    ax.tick_params(which="major", length=2, width=0.6, color="#333333", labelcolor="#4D4D4D", pad=2)
    ax.tick_params(which="minor", length=0)
    style_box(ax, "#333333", 1.0)
    ax.set_xlabel("SRS.score", family=SANS, fontsize=8, labelpad=0.5)
    set_ylabel_px(ax, box, C_LABELS[i], C_LABEL_PX[i], family=SANS, fontsize=8)

# %% Panel D
D_BOXES = [(26, 800, 251.7, 984), (281.7, 800, 506.7, 984), (547, 800, 762, 984), (791, 800, 1017, 984)]
D_LABEL_PX = [10, 265, 520, 775]
for i, box in enumerate(D_BOXES):
    ax = px_axes(fig, *box)
    ax.set_xlim(-1, 1)
    ax.set_ylim(*D_YLIM[i])
    ax.set_axisbelow(True)
    half_violin(ax, D_Y_H[i], D_W_H[i], -1, RED)
    half_violin(ax, D_Y_L[i], D_W_L[i], 1, TEAL)
    ax.errorbar([-0.207, 0.21], [D_MEAN_H[i], D_MEAN_L[i]], yerr=D_ERR[i], fmt="o", color="black", ms=3.4, capsize=3.4, lw=0.9, capthick=0.9, zorder=3)
    trans = mtrans.blended_transform_factory(ax.transData, ax.transAxes)
    ax.text(0, 0.955, D_SIG[i], family=SANS, fontsize=8, ha="center", va="center", transform=trans, zorder=5)
    ax.set_xticks([0], [""])
    ax.set_yticks(D_TICKS[i], D_TEXT[i], fontsize=7)
    ax.yaxis.set_minor_locator(AutoMinorLocator(2))
    ax.grid(True, which="major", color=GRID, lw=0.9)
    ax.grid(True, which="minor", axis="y", color=GRID, lw=0.6)
    ax.tick_params(which="major", length=2, width=0.6, color="#444444", labelcolor="#333333", pad=1.5)
    ax.tick_params(which="minor", length=0)
    style_box(ax, "#7A7A7A", 1.0)
    set_ylabel_px(ax, box, "Estimated IC50", D_LABEL_PX[i], fontsize=7.8)
    ax.set_xlabel(DRUGS[i], family=SANS, fontsize=8, labelpad=13)

# %% Overlay: letters, legends and the correlation labels
top = fig.add_axes([0, 0, 1, 1], zorder=20)
top.set_xlim(0, W)
top.set_ylim(H, 0)
top.axis("off")
for letter, y in [("A", 15), ("B", 292), ("C", 530), ("D", 799)]:
    top.text(2, y, letter, family=SANS, fontweight="bold", fontsize=14.5, va="center", ha="left")

top.text(898, 11, "category", fontsize=8, va="center")
top.text(960, 11, "High", fontsize=7, va="center")
top.text(1002, 11, "Low", fontsize=7, va="center")
for cx, color in [(946, RED_LINE), (989, TEAL_LINE)]:
    top.plot([cx, cx], [5, 17], color=color, lw=1, zorder=1)
    top.add_patch(Rectangle((cx - 6, 7), 12, 8, fc="white", ec=color, lw=1.1, zorder=2))
    top.plot([cx - 6, cx + 6], [11, 11], color=color, lw=1.1, zorder=3)

top.text(914, 285, "Group", fontsize=8, va="center")
top.text(963, 285, "High", fontsize=7, va="center")
top.text(1004, 285, "Low", fontsize=7, va="center")
for cx, color in [(951, RED), (991, TEAL)]:
    top.plot([cx, cx], [278, 292], color="#222222", lw=0.8, zorder=1)
    top.add_patch(Rectangle((cx - 6, 281), 12, 8, fc=color, ec="#222222", lw=0.8, zorder=2))
    top.plot([cx - 6, cx + 6], [285, 285], color="#222222", lw=1, zorder=3)

top.text(914, 782, "Group", fontsize=8, va="center")
top.text(963, 782, "High", fontsize=7, va="center")
top.text(1004, 782, "Low", fontsize=7, va="center")
for cx, color in [(951, RED), (991, TEAL)]:
    top.add_patch(Rectangle((cx - 6.5, 776), 13, 13, fc=color, ec="none"))
    top.plot([cx], [782], "o", color="black", ms=3.4)

for label, x, y in zip(C_STATS, [100, 270, 441, 610, 780, 950, 950], [543, 543, 543, 543, 543, 543, 556]):
    top.text(x, y, label, family=SANS, fontsize=7.2, va="center", color="#111111")

fig.savefig("out.png", dpi=100)
